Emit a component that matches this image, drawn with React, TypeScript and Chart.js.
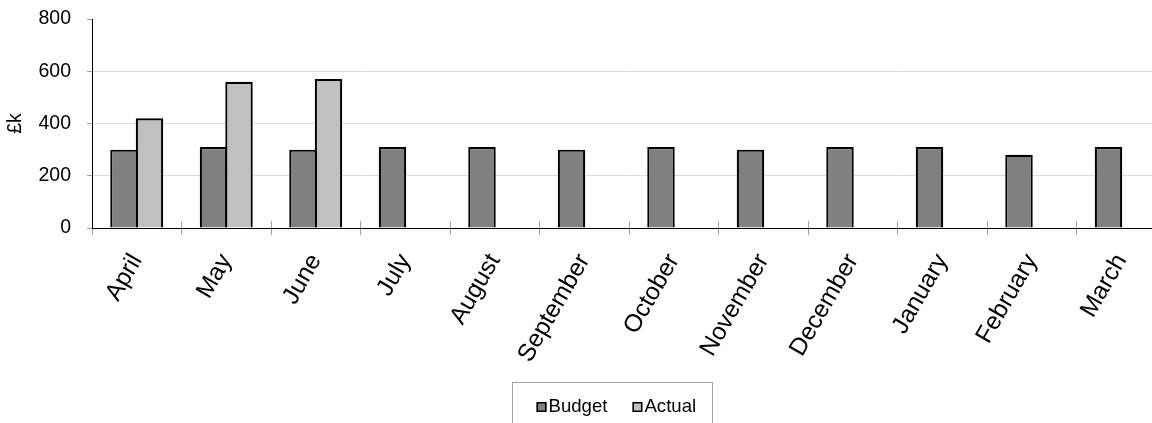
import React, { useEffect, useRef } from "react";
import { Chart, registerables } from "chart.js";

Chart.register(...registerables);

const FONT = "'Liberation Sans', Arial, Helvetica, sans-serif";

const months = [
  "April", "May", "June", "July", "August", "September",
  "October", "November", "December", "January", "February", "March",
];
const budget = [300, 310, 300, 310, 310, 300, 310, 300, 310, 310, 280, 310];
const actual: (number | null)[] = [420, 560, 570, null, null, null, null, null, null, null, null, null];
const yTicks = [0, 200, 400, 600, 800];
const seriesNames = ["Budget", "Actual"];
const seriesColors = ["#808080", "#c0c0c0"];
const yTitle = "£k";

const CANVAS_W = 1224;
const CANVAS_H = 460;

// Inner halves of the category tick marks plus the boxed legend under the axis.
const decorations = {
  id: "decorations",
  beforeDatasetsDraw(chart: any) {
    const { ctx, chartArea } = chart;
    const xs = chart.scales.x;
    ctx.save();
    ctx.strokeStyle = "#a0a0a0";
    ctx.lineWidth = 1;
    for (let i = 1; i <= months.length; i++) {
      const px = Math.round(xs.getPixelForValue(i - 0.5) - 0.5) + 0.5;
      ctx.beginPath();
      ctx.moveTo(px, chartArea.bottom - 7);
      ctx.lineTo(px, chartArea.bottom);
      ctx.stroke();
    }
    ctx.restore();
  },
  afterDraw(chart: any) {
    const { ctx } = chart;
    const top = chart.scales.x.bottom + 2;
    const boxW = 200;
    const left = Math.round(chart.width / 2 - boxW / 2) + 0.5;
    ctx.save();
    ctx.strokeStyle = "#a0a0a0";
    ctx.lineWidth = 1;
    ctx.strokeRect(left, top + 0.5, boxW, 60);

    ctx.font = `18.6px ${FONT}`;
    ctx.textBaseline = "alphabetic";
    ctx.textAlign = "left";
    let x = left + 24;
    const sqTop = top + 20;
    chart.data.datasets.forEach((ds: any) => {
      ctx.fillStyle = ds.backgroundColor;
      ctx.fillRect(x, sqTop, 10, 10);
      ctx.strokeStyle = "#000";
      ctx.lineWidth = 1.5;
      ctx.strokeRect(x + 0.75, sqTop + 0.75, 8.5, 8.5);
      ctx.fillStyle = "#000";
      ctx.fillText(ds.label, x + 12, sqTop + 10);
      x += 12 + ctx.measureText(ds.label).width + 25;
    });
    ctx.restore();
  },
};

export default function App() {
  const canvasRef = useRef<HTMLCanvasElement | null>(null);

  useEffect(() => {
    if (!canvasRef.current) return;
    Chart.defaults.font.family = FONT;
    const chart = new Chart(canvasRef.current, {
      type: "bar",
      data: {
        labels: months,
        datasets: [
          {
            label: seriesNames[0],
            data: budget,
            backgroundColor: seriesColors[0],
            borderColor: "#000",
            borderWidth: 2.2,
          },
          {
            label: seriesNames[1],
            data: actual,
            backgroundColor: seriesColors[1],
            borderColor: "#000",
            borderWidth: 2.2,
          },
        ],
      },
      options: {
        responsive: false,
        animation: false,
        events: [],
        datasets: {
          bar: { categoryPercentage: 0.57, barPercentage: 1.078 },
        },
        layout: { padding: { top: 19, right: 58, bottom: 80, left: 0 } },
        plugins: {
          legend: { display: false },
          tooltip: { enabled: false },
        },
        scales: {
          x: {
            offset: true,
            grid: {
              display: true,
              offset: true,
              drawOnChartArea: false,
              tickLength: 7,
              tickColor: "#a0a0a0",
            },
            border: { display: true, color: "#000", width: 1 },
            ticks: {
              autoSkip: false,
              minRotation: 60,
              maxRotation: 60,
              padding: 14,
              color: "#000",
              font: { size: 24.5, family: FONT },
            },
            afterFit: (s: any) => {
              s.height = 152;
            },
          },
          y: {
            min: 0,
            max: 800,
            afterBuildTicks: (s: any) => {
              s.ticks = yTicks.map((v) => ({ value: v }));
            },
            ticks: {
              padding: 16,
              color: "#000",
              font: { size: 19.5, family: FONT },
            },
            grid: {
              color: (c: any) =>
                c.tick && c.tick.value === yTicks[yTicks.length - 1] ? "rgba(0,0,0,0)" : "#dcdcdc",
              tickLength: 5,
              tickColor: "#a0a0a0",
            },
            border: { display: true, color: "#000", width: 1 },
            title: {
              display: true,
              text: yTitle,
              color: "#000",
              font: { size: 19.5, family: FONT },
              padding: 4,
            },
            afterFit: (s: any) => {
              s.width = 92;
              // the wide label gap would otherwise push the plot top down
              s.paddingTop = 10;
              s.paddingBottom = 10;
            },
          },
        },
      },
      plugins: [decorations],
    });
    return () => chart.destroy();
  }, []);

  return (
    <div
      style={{
        position: "fixed",
        left: 0,
        top: 0,
        width: 1152,
        height: 423,
        overflow: "hidden",
        background: "#fff",
      }}
    >
      <canvas ref={canvasRef} width={CANVAS_W} height={CANVAS_H} style={{ display: "block" }} />
    </div>
  );
}
